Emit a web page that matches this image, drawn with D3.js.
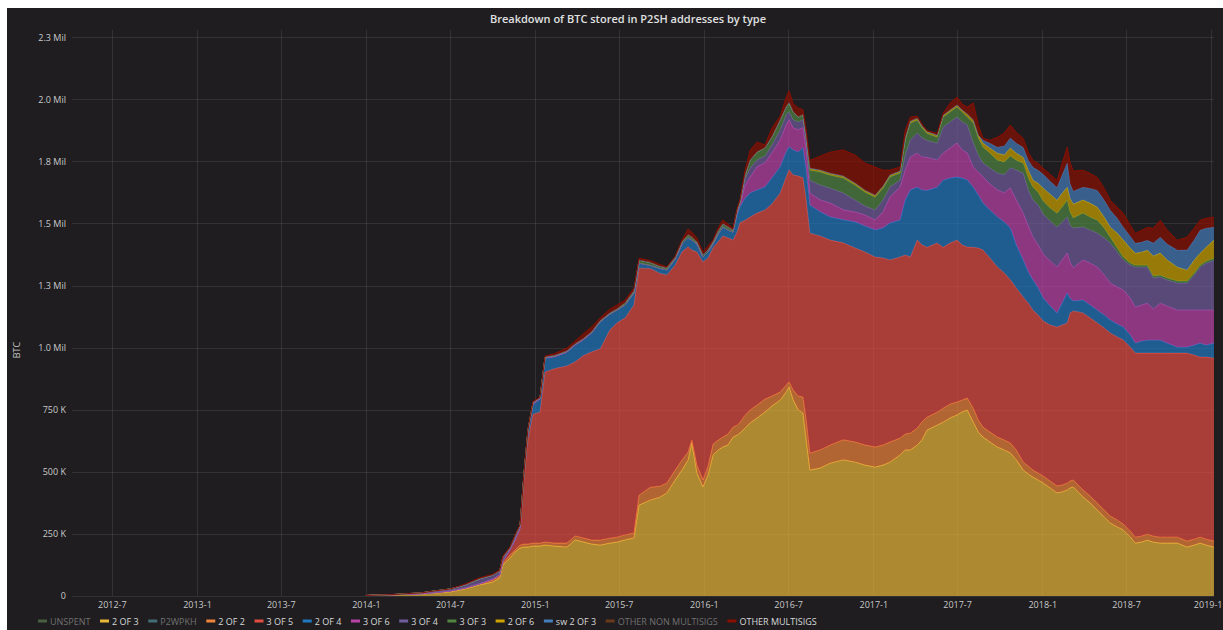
<!DOCTYPE html>
<html>
<head>
<meta charset="utf-8">
<script src="https://cdn.jsdelivr.net/npm/d3@7"></script>
<style>
  html, body { margin: 0; padding: 0; background: #fff; }
  svg { display: block; font-family: "Open Sans", "Noto Sans", sans-serif; }
</style>
</head>
<body>
<svg id="chart" width="1223" height="630"></svg>
<script>
// dates of the samples
const dates = [
  '2014-01-01', '2014-03-02', '2014-05-02', '2014-06-01', '2014-07-01', '2014-08-03', '2014-09-02',
  '2014-10-02', '2014-10-17', '2014-10-24', '2014-11-08', '2014-11-19', '2014-11-30', '2014-12-08', '2014-12-17',
  '2014-12-28', '2015-01-12', '2015-01-23', '2015-02-13', '2015-03-11', '2015-03-29', '2015-04-15', '2015-05-04',
  '2015-05-22', '2015-06-12', '2015-06-27', '2015-07-15', '2015-08-03', '2015-08-14', '2015-09-07', '2015-09-28',
  '2015-10-13', '2015-10-31', '2015-11-15', '2015-11-28', '2015-12-06', '2015-12-17', '2015-12-30', '2016-01-10',
  '2016-01-21', '2016-02-01', '2016-02-11', '2016-02-22', '2016-03-04', '2016-03-13', '2016-03-19', '2016-03-30',
  '2016-04-10', '2016-04-25', '2016-05-12', '2016-05-27', '2016-06-14', '2016-06-27', '2016-07-03', '2016-07-12',
  '2016-07-23', '2016-08-02', '2016-08-09', '2016-08-17', '2016-09-08', '2016-09-30', '2016-10-28', '2016-11-23',
  '2016-12-14', '2017-01-05', '2017-01-22', '2017-02-06', '2017-02-28', '2017-03-11', '2017-03-22', '2017-04-06',
  '2017-04-16', '2017-04-27', '2017-05-19', '2017-06-01', '2017-06-16', '2017-07-01', '2017-07-12', '2017-07-23',
  '2017-08-05', '2017-08-16', '2017-08-26', '2017-09-10', '2017-09-26', '2017-10-11', '2017-10-24', '2017-11-06',
  '2017-11-21', '2017-12-02', '2017-12-12', '2017-12-23', '2018-01-03', '2018-01-18', '2018-02-02', '2018-02-13',
  '2018-02-24', '2018-03-02', '2018-03-09', '2018-03-30', '2018-04-15', '2018-04-30', '2018-05-15', '2018-05-28',
  '2018-06-12', '2018-06-25', '2018-07-10', '2018-07-21', '2018-08-03', '2018-08-16', '2018-08-29', '2018-09-13',
  '2018-09-28', '2018-10-20', '2018-11-10', '2018-11-25', '2018-12-08', '2018-12-21', '2019-01-07'
]

// BTC per type, in thousands
const twoOf3 = [
  2, 5, 8, 12, 16, 28, 44, 56, 73, 125, 153, 177, 193, 197, 197,
  201, 201, 205, 201, 197, 226, 218, 209, 205, 213, 217, 226, 234, 366, 386, 398,
  415, 467, 508, 548, 616, 495, 439, 487, 568, 588, 600, 608, 640, 648, 656, 676,
  697, 717, 741, 765, 789, 822, 842, 789, 749, 737, 628, 507, 515, 535, 548, 539,
  527, 519, 527, 539, 568, 588, 588, 608, 628, 668, 688, 700, 717, 729, 741, 749,
  700, 660, 640, 620, 600, 588, 576, 548, 507, 491, 479, 467, 455, 435, 415, 419,
  427, 435, 439, 399, 374, 346, 318, 294, 278, 266, 238, 213, 217, 225, 217, 213,
  213, 213, 197, 205, 213, 205, 197
]
const twoOf2 = [
  0, 0, 1, 2, 4, 4, 4, 8, 8, 8, 12, 8, 12, 12, 12,
  12, 12, 12, 12, 16, 16, 16, 16, 20, 20, 20, 20, 20, 40, 52, 44,
  40, 40, 40, 32, 12, 32, 28, 36, 44, 40, 40, 44, 40, 40, 44, 52,
  52, 52, 52, 40, 32, 28, 20, 40, 56, 64, 81, 68, 73, 73, 81, 81,
  81, 81, 81, 81, 68, 64, 68, 68, 73, 52, 52, 56, 56, 52, 48, 48,
  56, 48, 40, 40, 40, 40, 40, 40, 32, 32, 28, 28, 28, 28, 28, 28,
  28, 28, 28, 28, 28, 28, 28, 28, 28, 24, 24, 24, 24, 24, 24, 24,
  24, 24, 24, 24, 24, 24, 24
]
const threeOf5 = [
  0, 0, 0, 0, 0, 0, 0, 4, 4, 8, 20, 40, 68, 258, 419,
  519, 528, 685, 703, 713, 701, 733, 758, 770, 838, 862, 874, 918, 914, 881, 857,
  838, 825, 838, 826, 765, 858, 878, 838, 790, 798, 810, 790, 753, 778, 803, 785,
  777, 773, 761, 773, 802, 838, 854, 866, 886, 883, 886, 886, 862, 825, 793, 781,
  777, 765, 753, 733, 729, 721, 709, 757, 713, 684, 681, 648, 648, 652, 624, 608,
  648, 693, 713, 701, 685, 673, 657, 652, 664, 656, 644, 636, 624, 628, 640, 644,
  644, 676, 681, 713, 717, 725, 733, 737, 737, 741, 741, 741, 737, 729, 737, 741,
  741, 741, 757, 741, 725, 733, 737
]
const twoOf4 = [
  0, 0, 0, 0, 0, 0, 0, 0, 0, 0, 0, 0, 0, 8, 32,
  40, 52, 56, 48, 56, 68, 64, 77, 109, 64, 52, 52, 48, 20, 12, 20,
  20, 24, 32, 36, 40, 32, 20, 24, 16, 32, 36, 32, 32, 68, 64, 89,
  97, 93, 93, 105, 105, 101, 93, 101, 97, 121, 121, 113, 97, 93, 93, 105,
  105, 109, 121, 149, 149, 221, 270, 213, 221, 229, 225, 270, 262, 254, 270, 270,
  242, 213, 189, 193, 201, 205, 209, 173, 149, 125, 121, 109, 93, 77, 56, 89,
  121, 60, 40, 52, 52, 52, 52, 52, 52, 52, 48, 40, 48, 52, 52, 52,
  40, 24, 24, 40, 56, 48, 60
]
const threeOf6 = [
  0, 0, 0, 0, 0, 0, 0, 0, 0, 0, 0, 0, 0, 0, 0,
  0, 0, 0, 0, 0, 0, 0, 0, 0, 0, 0, 0, 0, 0, 0, 0,
  0, 0, 0, 0, 0, 0, 0, 0, 0, 0, 0, 0, 0, 12, 8, 52,
  64, 93, 97, 101, 109, 109, 109, 89, 89, 81, 81, 48, 48, 56, 40, 40,
  44, 40, 64, 105, 133, 121, 133, 137, 133, 133, 109, 109, 121, 137, 113, 109,
  81, 93, 105, 105, 109, 117, 161, 181, 189, 185, 173, 173, 177, 181, 185, 173,
  161, 145, 133, 161, 169, 173, 161, 149, 149, 149, 149, 145, 145, 149, 125, 149,
  149, 149, 149, 141, 133, 141, 133
]
const threeOf4 = [
  0, 1, 4, 7, 8, 12, 20, 16, 16, 16, 8, 16, 12, 8, 8,
  8, 4, 4, 4, 4, 4, 4, 4, 0, 0, 0, 0, 0, 0, 0, 0,
  0, 0, 0, 0, 0, 0, 0, 0, 0, 0, 0, 0, 0, 0, 0, 28,
  36, 28, 28, 32, 40, 40, 32, 32, 32, 32, 32, 52, 60, 60, 68, 48,
  36, 40, 48, 40, 28, 60, 68, 81, 77, 68, 68, 105, 105, 105, 113, 113,
  97, 68, 56, 64, 68, 73, 81, 121, 161, 145, 149, 161, 161, 161, 161, 153,
  145, 149, 161, 133, 133, 137, 149, 161, 141, 121, 133, 161, 153, 145, 125, 105,
  105, 109, 109, 141, 173, 189, 201
]
const threeOf3 = [
  0, 0, 0, 0, 0, 0, 0, 0, 0, 0, 0, 0, 0, 0, 0,
  0, 0, 0, 0, 0, 0, 0, 0, 4, 4, 4, 8, 8, 12, 12, 8,
  8, 8, 8, 12, 12, 8, 8, 8, 8, 12, 12, 12, 8, 8, 12, 12,
  32, 32, 32, 32, 40, 32, 36, 32, 20, 20, 20, 40, 52, 52, 60, 60,
  56, 52, 48, 40, 28, 60, 68, 52, 40, 28, 24, 40, 40, 40, 40, 32,
  81, 68, 64, 60, 52, 52, 48, 40, 40, 48, 52, 52, 52, 52, 56, 60,
  68, 52, 40, 56, 52, 52, 40, 24, 16, 12, 8, 8, 8, 8, 8, 8,
  8, 8, 8, 8, 8, 8, 8
]
const twoOf6 = [
  0, 0, 0, 0, 0, 0, 0, 0, 0, 0, 0, 0, 0, 0, 0,
  0, 0, 0, 0, 0, 0, 0, 0, 0, 0, 0, 0, 0, 0, 0, 0,
  0, 0, 0, 0, 0, 0, 0, 0, 0, 0, 0, 0, 0, 0, 0, 0,
  0, 0, 0, 0, 0, 0, 0, 0, 0, 0, 0, 8, 8, 8, 8, 8,
  8, 8, 8, 8, 8, 8, 8, 8, 8, 8, 8, 8, 8, 8, 8, 12,
  12, 12, 16, 20, 28, 28, 32, 28, 24, 32, 28, 36, 52, 56, 52, 56,
  52, 56, 56, 52, 56, 52, 44, 40, 60, 68, 60, 48, 52, 60, 81, 89,
  73, 56, 44, 52, 48, 56, 73
]
const sw2of3 = [
  0, 0, 0, 0, 0, 0, 0, 0, 0, 0, 0, 0, 0, 0, 0,
  0, 0, 0, 0, 0, 0, 0, 0, 0, 0, 0, 0, 0, 0, 0, 0,
  0, 0, 0, 0, 0, 0, 0, 0, 0, 0, 0, 0, 0, 0, 0, 0,
  0, 0, 0, 0, 0, 0, 0, 0, 0, 0, 0, 0, 0, 0, 0, 0,
  0, 0, 0, 0, 0, 0, 0, 0, 0, 0, 0, 0, 0, 0, 0, 0,
  0, 0, 12, 20, 24, 36, 40, 40, 40, 40, 52, 52, 56, 52, 52, 73,
  97, 60, 52, 52, 60, 68, 68, 68, 60, 52, 48, 40, 40, 40, 52, 64,
  64, 68, 81, 81, 93, 77, 52
]
const otherMultisigs = [
  0, 0, 0, 0, 0, 4, 4, 4, 4, 4, 4, 4, 4, 4, 4,
  4, 4, 4, 8, 12, 12, 20, 20, 12, 16, 16, 12, 12, 8, 8, 8,
  4, 4, 8, 24, 20, 16, 12, 16, 8, 12, 16, 12, 8, 8, 8, 20,
  40, 40, 12, 36, 16, 40, 48, 32, 36, 20, 28, 32, 56, 85, 105, 113,
  109, 113, 64, 20, 16, 32, 16, 8, 8, 4, 8, 8, 28, 32, 24, 28,
  68, 40, 8, 12, 40, 52, 52, 44, 36, 32, 28, 28, 24, 28, 28, 48,
  64, 85, 81, 68, 60, 52, 48, 40, 44, 56, 44, 40, 48, 52, 60, 68,
  56, 40, 52, 48, 40, 40, 40
]

// stacked series, bottom to top (legend order)
const seriesNames = ['2 OF 3', '2 OF 2', '3 OF 5', '2 OF 4', '3 OF 6', '3 OF 4', '3 OF 3', '2 OF 6', 'sw 2 OF 3', 'OTHER MULTISIGS']
const seriesValues = [twoOf3, twoOf2, threeOf5, twoOf4, threeOf6, threeOf4, threeOf3, twoOf6, sw2of3, otherMultisigs]

// legend (hidden series are shown greyed out)
const legendNames = ['UNSPENT', '2 OF 3', 'P2WPKH', '2 OF 2', '3 OF 5', '2 OF 4', '3 OF 6', '3 OF 4', '3 OF 3', '2 OF 6', 'sw 2 OF 3', 'OTHER NON MULTISIGS', 'OTHER MULTISIGS']
const legendColors = ['#7EB26D', '#EAB839', '#6ED0E0', '#EF843C', '#E24D42', '#1F78C1', '#BA43A9', '#705DA0', '#508642', '#CCA300', '#447EBC', '#C15C17', '#890F02']
const legendHidden = [true, false, true, false, false, false, false, false, false, false, false, true, false]

const yTicks = [0, 250, 500, 750, 1000, 1250, 1500, 1750, 2000, 2250]
const title = 'Breakdown of BTC stored in P2SH addresses by type'

const colorOf = (name) => legendColors[legendNames.indexOf(name)]

const svg = d3.select('#chart')

// panel
svg.append('rect')
  .attr('x', 7).attr('y', 8)
  .attr('width', 1216).attr('height', 622)
  .attr('fill', '#1f1d1f')

const plot = { left: 72, right: 1214, top: 30, bottom: 596 }

const parse = d3.timeParse('%Y-%m-%d')
const xScale = d3.scaleTime()
  .domain([parse('2012-04-06'), parse('2019-01-07')])
  .range([plot.left, plot.right])

const yScale = d3.scaleLinear()
  .domain([0, 2279])
  .range([plot.bottom, plot.top])

const fmtY = (v) => {
  if (v === 0) return '0'
  if (v >= 1000) return (v / 1000).toFixed(1) + ' Mil'
  return v + ' K'
}

// grid
const xTicks = xScale.ticks(d3.timeMonth.every(6))
svg.append('g')
  .selectAll('line')
  .data(xTicks)
  .enter()
  .append('line')
  .attr('x1', (d) => Math.round(xScale(d)) + 0.5)
  .attr('x2', (d) => Math.round(xScale(d)) + 0.5)
  .attr('y1', plot.top)
  .attr('y2', plot.bottom)
  .attr('stroke', 'rgba(255,255,255,0.09)')

svg.append('g')
  .selectAll('line')
  .data(yTicks)
  .enter()
  .append('line')
  .attr('x1', plot.left)
  .attr('x2', plot.right)
  .attr('y1', (d) => Math.round(yScale(d)) + 0.5)
  .attr('y2', (d) => Math.round(yScale(d)) + 0.5)
  .attr('stroke', 'rgba(255,255,255,0.09)')

// stacked areas
const table = dates.map((d, i) => {
  const row = { date: parse(d) }
  seriesNames.forEach((name, k) => { row[name] = seriesValues[k][i] })
  return row
})

const stacked = d3.stack().keys(seriesNames)(table)

const area = d3.area()
  .x((d) => xScale(d.data.date))
  .y0((d) => yScale(d[0]))
  .y1((d) => yScale(d[1]))

const line = d3.line()
  .x((d) => xScale(d.data.date))
  .y((d) => yScale(d[1]))

// grafana draws each series fill then its line, bottom series first
const layers = svg.append('g')
stacked.forEach((s) => {
  layers.append('path')
    .attr('d', area(s))
    .attr('fill', colorOf(s.key))
    .attr('fill-opacity', 0.7)
  layers.append('path')
    .attr('d', line(s))
    .attr('fill', 'none')
    .attr('stroke', colorOf(s.key))
    .attr('stroke-width', 1)
})

// axes (labels only, grafana style)
const xAxis = d3.axisBottom(xScale)
  .tickValues(xTicks)
  .tickFormat(d3.timeFormat('%Y-%-m'))
  .tickSize(0)
  .tickPadding(6)

const gx = svg.append('g')
  .attr('transform', 'translate(0,' + plot.bottom + ')')
  .call(xAxis)
gx.select('.domain').remove()
gx.selectAll('text')
  .attr('fill', '#c8c9ca')
  .style('font-size', '9px')
  .style('font-family', '"Open Sans", sans-serif')
// last label sits on the panel edge
gx.selectAll('.tick')
  .filter((d, i, nodes) => i === nodes.length - 1)
  .select('text')
  .attr('text-anchor', 'end')
  .attr('x', 1222 - xScale(xTicks[xTicks.length - 1]))

const yAxis = d3.axisLeft(yScale)
  .tickValues(yTicks)
  .tickFormat(fmtY)
  .tickSize(0)
  .tickPadding(6)

const gy = svg.append('g')
  .attr('transform', 'translate(' + plot.left + ',0)')
  .call(yAxis)
gy.select('.domain').remove()
gy.selectAll('text')
  .attr('fill', '#c8c9ca')
  .style('font-size', '9px')
  .style('font-family', '"Open Sans", sans-serif')

svg.append('text')
  .attr('transform', 'translate(20,350) rotate(-90)')
  .attr('text-anchor', 'middle')
  .attr('fill', '#c8c9ca')
  .style('font-size', '9px')
  .text('BTC')

// title
svg.append('text')
  .attr('x', 628)
  .attr('y', 23)
  .attr('text-anchor', 'middle')
  .attr('fill', '#e0e1e2')
  .style('font-size', '11px')
  .style('font-weight', 600)
  .text(title)

// legend
const legend = svg.append('g').attr('transform', 'translate(38,621)')
let lx = 0
legendNames.forEach((name, i) => {
  const item = legend.append('g').attr('transform', 'translate(' + lx + ',0)')
  item.append('rect')
    .attr('x', 0).attr('y', -1.5)
    .attr('width', 9).attr('height', 3)
    .attr('fill', legendColors[i])
    .attr('opacity', legendHidden[i] ? 0.45 : 1)
  const t = item.append('text')
    .attr('x', 12)
    .attr('y', 3.5)
    .attr('fill', legendHidden[i] ? '#707072' : '#d8d9da')
    .style('font-size', '9px')
    .text(name)
  lx += 12 + t.node().getComputedTextLength() + 9.6
})
</script>
</body>
</html>
